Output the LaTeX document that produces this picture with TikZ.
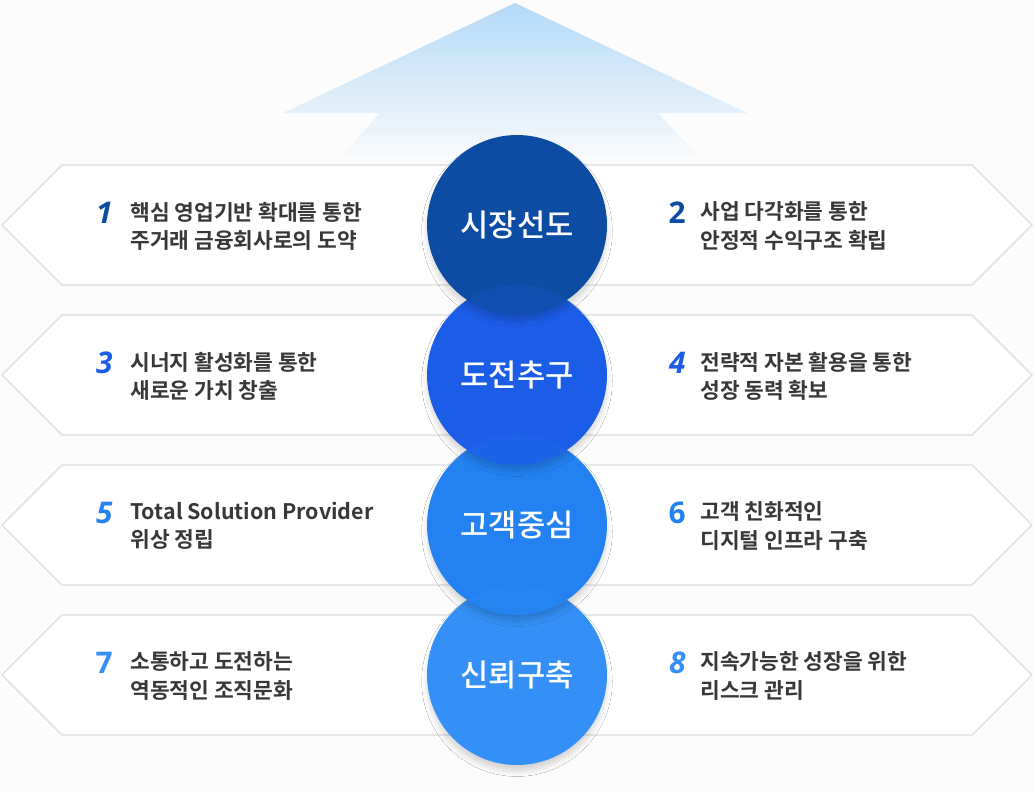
\documentclass[tikz,border=0pt]{standalone}
\usepackage{fontspec}
\setmainfont{Noto Sans CJK KR}
\newfontfamily\medfont{Noto Sans CJK KR Medium}
\newfontfamily\boldfont{Noto Sans CJK KR Bold}
\newfontfamily\numfont{Open Sans}
\usepackage{xcolor}
\definecolor{paper}{HTML}{FCFCFC}
\definecolor{edge}{HTML}{DDDDDD}
\definecolor{ink}{HTML}{383838}
\definecolor{sky}{HTML}{B4DAF8}
\definecolor{skymid}{HTML}{D2E9FB}
\definecolor{lead}{HTML}{0C4CA3}
\definecolor{challenge}{HTML}{1B5DE6}
\definecolor{customer}{HTML}{2381F2}
\definecolor{trust}{HTML}{3490F6}
\usepackage{tikz}
\usetikzlibrary{shadows.blur, positioning}

\begin{document}
\begin{tikzpicture}[x=0.02cm, y=-0.02cm,
  banner/.style={draw=edge, fill=white, line width=0.7pt},
  goal/.style={circle, fill=#1, minimum size=3.6cm, inner sep=0pt,
    font=\medfont\fontsize{17.5}{20}\selectfont, text=white,
    blur shadow={shadow xshift=0pt, shadow yshift=-3.5pt, shadow opacity=16, shadow blur steps=10, shadow blur radius=3pt}},
  num/.style={anchor=east, inner sep=0pt, text=#1,
    font=\numfont\bfseries\itshape\fontsize{17}{20}\selectfont},
  upnum/.style={num=#1, font=\numfont\bfseries\fontsize{17}{20}\selectfont},
  item/.style={anchor=west, inner sep=0pt, align=left, text=ink,
    font=\boldfont\fontsize{12.2}{16}\selectfont}
]
  \fill[paper] (0,0) rectangle (1034,791);
  \useasboundingbox (0,0) rectangle (1034,791);

  % arrow
  \shade[top color=sky, middle color=skymid, bottom color=paper]
    (515,3) -- (747,113) -- (658,113) -- (707,165) -- (334,165)
    -- (380,113) -- (283,113) -- cycle;

  % banners
  \draw[banner] (517,165) -- (62,165) -- (2,225) -- (62,285) -- (517,285) -- cycle;
  \draw[banner] (517,165) -- (972,165) -- (1032,225) -- (972,285) -- (517,285) -- cycle;
  \draw[banner] (517,315) -- (62,315) -- (2,375) -- (62,435) -- (517,435) -- cycle;
  \draw[banner] (517,315) -- (972,315) -- (1032,375) -- (972,435) -- (517,435) -- cycle;
  \draw[banner] (517,465) -- (62,465) -- (2,525) -- (62,585) -- (517,585) -- cycle;
  \draw[banner] (517,465) -- (972,465) -- (1032,525) -- (972,585) -- (517,585) -- cycle;
  \draw[banner] (517,615) -- (62,615) -- (2,675) -- (62,735) -- (517,735) -- cycle;
  \draw[banner] (517,615) -- (972,615) -- (1032,675) -- (972,735) -- (517,735) -- cycle;

  % circles
  \node[goal=trust]     (trust)     at (517,675) {신뢰구축};
  \node[goal=customer]  (customer)  at (517,525) {고객중심};
  \node[goal=challenge] (challenge) at (517,375) {도전추구};
  \node[goal=lead]      (market)    at (517,225) {시장선도};

  \begin{scope}
    \clip (market.center) circle[radius=1.8cm];
    \fill[challenge, fill opacity=0.18] (challenge.center) circle[radius=1.8cm];
  \end{scope}
  \begin{scope}
    \clip (challenge.center) circle[radius=1.8cm];
    \fill[customer, fill opacity=0.18] (customer.center) circle[radius=1.8cm];
  \end{scope}
  \begin{scope}
    \clip (customer.center) circle[radius=1.8cm];
    \fill[trust, fill opacity=0.18] (trust.center) circle[radius=1.8cm];
  \end{scope}

  % items
  \node[num=lead] (n1) at (113,213) {1};
  \node[item] (t1) at (130,226) {핵심 영업기반 확대를 통한\\주거래 금융회사로의 도약};
  \node[upnum=lead] (n2) at (686,213) {2};
  \node[item] (t2) at (700,226) {사업 다각화를 통한\\안정적 수익구조 확립};

  \node[num=challenge] (n3) at (113,363) {3};
  \node[item] (t3) at (130,376) {시너지 활성화를 통한\\새로운 가치 창출};
  \node[num=challenge] (n4) at (686,363) {4};
  \node[item] (t4) at (700,376) {전략적 자본 활용을 통한\\성장 동력 확보};

  \node[num=customer] (n5) at (113,513) {5};
  \node[item] (t5) at (130,526) {Total Solution Provider\\위상 정립};
  \node[upnum=customer] (n6) at (686,513) {6};
  \node[item] (t6) at (700,526) {고객 친화적인\\디지털 인프라 구축};

  \node[upnum=trust] (n7) at (113,663) {7};
  \node[item] (t7) at (130,676) {소통하고 도전하는\\역동적인 조직문화};
  \node[num=trust] (n8) at (686,663) {8};
  \node[item] (t8) at (700,676) {지속가능한 성장을 위한\\리스크 관리};
\end{tikzpicture}
\end{document}
